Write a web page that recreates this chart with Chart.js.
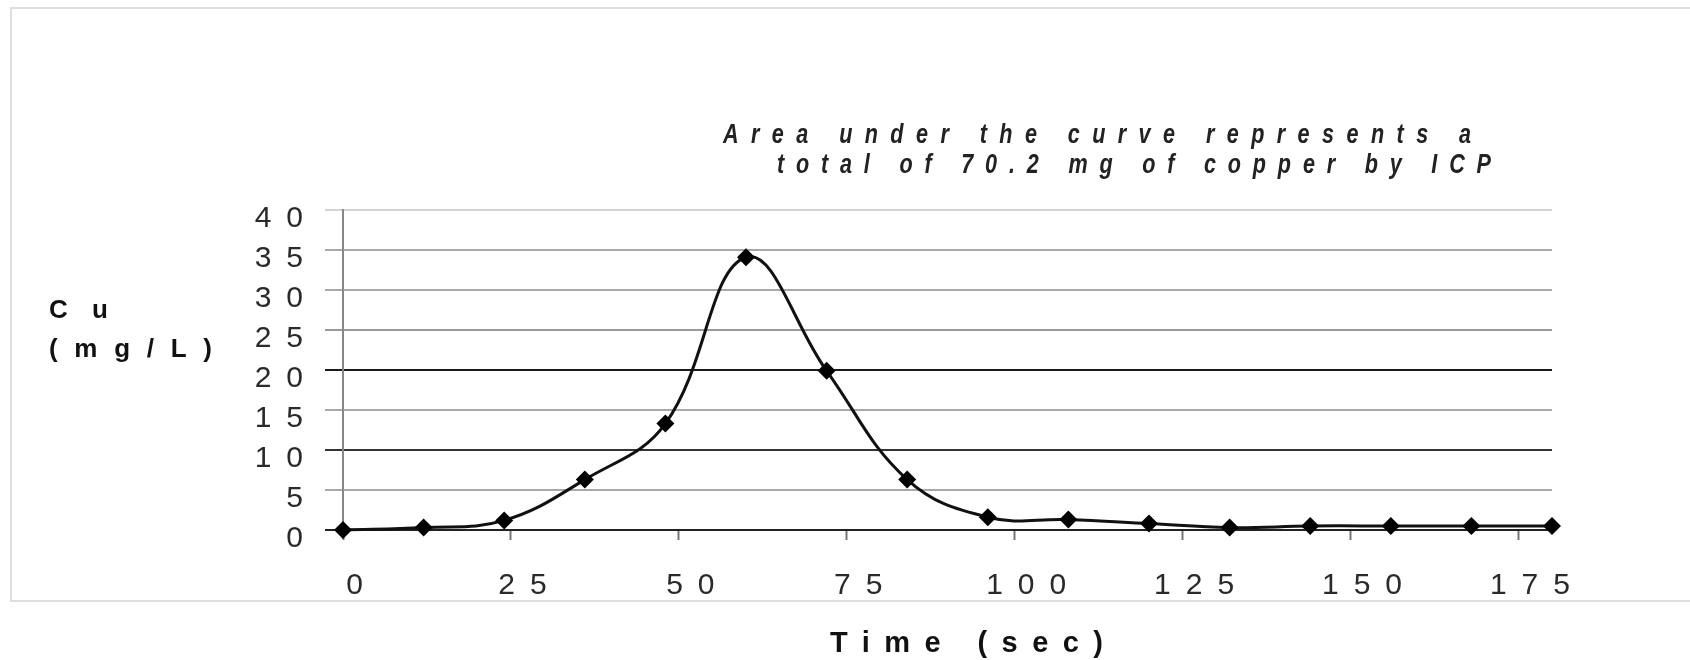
<!DOCTYPE html>
<html lang="en">
<head>
  <meta charset="UTF-8">
  <title>Cu elution curve</title>
  <script src="https://cdn.jsdelivr.net/npm/chart.js"></script>
  <style>
    body {
      margin: 0;
      background: #fff;
    }

    #container {
      position: relative;
      width: 1690px;
      height: 660px;
    }
  </style>
</head>
<body>
  <div id="container">
    <canvas id="cuChart"></canvas>
  </div>

  <script>
    // sampling times (sec) and copper concentration (mg/L)
    const timeSec = [0, 12, 24, 36, 48, 60, 72, 84, 96, 108, 120, 132, 144, 156, 168, 180];
    const cuMgL = [0, 0.3, 1.2, 6.3, 13.3, 34.1, 19.9, 6.3, 1.6, 1.3, 0.8, 0.3, 0.5, 0.5, 0.5, 0.5];

    const xTicks = [0, 25, 50, 75, 100, 125, 150, 175];
    const yTicks = [0, 5, 10, 15, 20, 25, 30, 35, 40];

    const noteLines = [
      "Area under the curve represents a",
      "total of 70.2 mg of copper by ICP"
    ];
    const yTitleLines = ["Cu", "(mg/L)"];
    const xTitle = "Time (sec)";

    // the scanned gridlines are not all the same shade
    const gridShades = ['#222', '#a8a8a8', '#333', '#a8a8a8', '#1a1a1a', '#999', '#a8a8a8', '#a8a8a8', '#d4d4d4'];

    const FONT = '"Liberation Sans", Arial, sans-serif';

    // draws text stretched with letter spacing so the ink spans `width`
    // squeeze < 1 makes the glyphs narrower, like the condensed face in the scan
    function spacedText(ctx, text, x, y, width, font, color, squeeze = 1) {
      ctx.save();
      ctx.translate(x, y);
      ctx.scale(squeeze, 1);
      ctx.font = font;
      ctx.letterSpacing = '0px';
      const plain = ctx.measureText(text).width;
      ctx.letterSpacing = ((width / squeeze - plain) / (text.length - 1)) + 'px';
      ctx.fillStyle = color;
      ctx.textAlign = 'left';
      ctx.textBaseline = 'alphabetic';
      ctx.fillText(text, 0, 0);
      ctx.restore();
    }

    const frameAndText = {
      id: 'frameAndText',
      beforeDraw(chart) {
        const ctx = chart.ctx;
        ctx.save();
        ctx.strokeStyle = '#dedede';
        ctx.lineWidth = 2;
        ctx.beginPath();
        ctx.moveTo(1700, 8);
        ctx.lineTo(11, 8);
        ctx.lineTo(11, 601);
        ctx.lineTo(1700, 601);
        ctx.stroke();
        ctx.restore();
        // tick labels in the original are widely spaced
        ctx.letterSpacing = '15px';
      },
      afterDraw(chart) {
        const ctx = chart.ctx;
        ctx.letterSpacing = '0px';
        const noteFont = 'italic bold 27px ' + FONT;
        spacedText(ctx, noteLines[0], 723, 143, 748, noteFont, '#222', 0.8);
        spacedText(ctx, noteLines[1], 777, 173, 714, noteFont, '#222', 0.8);

        const titleFont = 'bold 26px ' + FONT;
        spacedText(ctx, yTitleLines[0], 49, 318, 59, titleFont, '#111');
        spacedText(ctx, yTitleLines[1], 49, 357, 163, titleFont, '#111');

        spacedText(ctx, xTitle, 830, 652, 273, 'bold 29px ' + FONT, '#111');
      }
    };

    const config = {
      type: 'line',
      data: {
        datasets: [{
          label: 'Cu',
          data: timeSec.map((t, i) => ({ x: t, y: cuMgL[i] })),
          borderColor: '#111',
          borderWidth: 3,
          tension: 0.4,
          fill: false,
          clip: false,
          pointStyle: 'rectRot',
          pointRadius: 9,
          pointBackgroundColor: '#000',
          pointBorderColor: '#000',
          pointBorderWidth: 0
        }]
      },
      options: {
        responsive: true,
        maintainAspectRatio: false,
        animation: false,
        layout: {
          padding: { left: 0, top: 210, right: 138, bottom: 0 }
        },
        scales: {
          x: {
            type: 'linear',
            min: 0,
            max: 180,
            afterBuildTicks: scale => { scale.ticks = xTicks.map(v => ({ value: v })); },
            afterFit: scale => { scale.height = 130; },
            grid: {
              drawOnChartArea: false,
              drawTicks: true,
              tickLength: 10,
              tickColor: '#777',
              tickWidth: 2
            },
            border: { color: '#222', width: 2 },
            ticks: {
              padding: 28,
              labelOffset: 19,
              maxRotation: 0,
              autoSkip: false,
              color: '#2a2a2a',
              font: { family: FONT, size: 30 },
              callback: v => String(v)
            }
          },
          y: {
            min: 0,
            max: 40,
            afterBuildTicks: scale => { scale.ticks = yTicks.map(v => ({ value: v })); },
            afterFit: scale => { scale.width = 343; },
            grid: {
              color: ctx => gridShades[ctx.index] || '#aaa',
              lineWidth: 2,
              drawTicks: true,
              tickLength: 18
            },
            border: { color: '#888', width: 2 },
            ticks: {
              padding: 7,
              labelOffset: 9,
              color: '#2a2a2a',
              font: { family: FONT, size: 30 },
              callback: v => String(v)
            }
          }
        },
        plugins: {
          legend: { display: false },
          tooltip: { enabled: false }
        }
      },
      plugins: [frameAndText]
    };

    new Chart(document.getElementById('cuChart'), config);
  </script>
</body>
</html>
